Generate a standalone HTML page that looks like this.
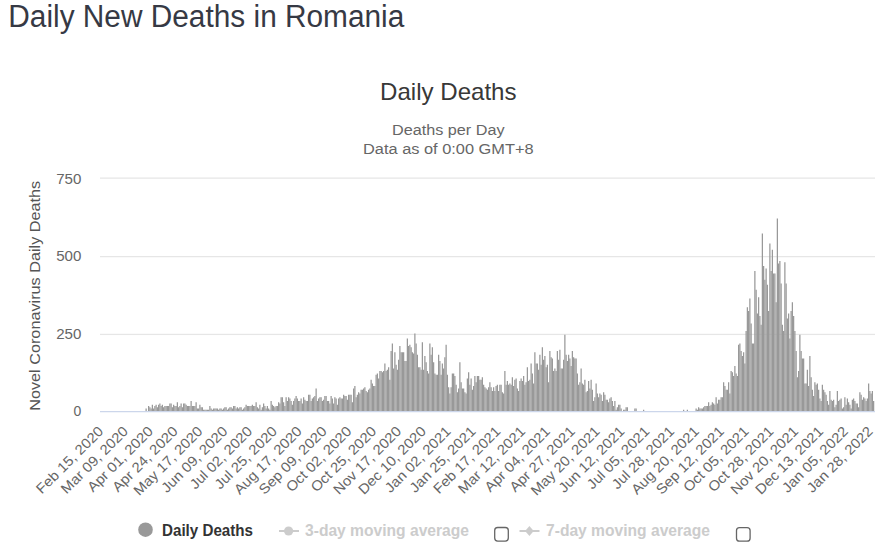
<!DOCTYPE html>
<html><head><meta charset="utf-8"><title>Daily New Deaths in Romania</title>
<style>
html,body{margin:0;padding:0;background:#fff;width:888px;height:552px;overflow:hidden}
svg{position:absolute;left:0;top:0;display:block}
text{font-family:"Liberation Sans",sans-serif}
</style></head><body>
<svg width="888" height="552" viewBox="0 0 888 552">
<text x="8.3" y="26.7" font-size="31" fill="#363944" textLength="396" lengthAdjust="spacingAndGlyphs">Daily New Deaths in Romania</text>
<text x="448.3" y="99.8" font-size="24" fill="#383838" text-anchor="middle" textLength="136.5" lengthAdjust="spacingAndGlyphs">Daily Deaths</text>
<text x="448.3" y="134.9" font-size="14" fill="#666" text-anchor="middle" textLength="112.5" lengthAdjust="spacingAndGlyphs">Deaths per Day</text>
<text x="448.3" y="153.7" font-size="14" fill="#666" text-anchor="middle" textLength="170.5" lengthAdjust="spacingAndGlyphs">Data as of 0:00 GMT+8</text>
<g fill="#e6e6e6">
<rect x="100" y="177.5" width="775" height="1.25"/>
<rect x="100" y="256" width="775" height="1.25"/>
<rect x="100" y="333.8" width="775" height="1.25"/>
</g>
<g font-size="14" fill="#666" text-anchor="end">
<text x="81.4" y="183.8" textLength="25.2" lengthAdjust="spacingAndGlyphs">750</text>
<text x="81.4" y="260.8" textLength="25.2" lengthAdjust="spacingAndGlyphs">500</text>
<text x="81.4" y="339.1" textLength="25.2" lengthAdjust="spacingAndGlyphs">250</text>
<text x="81.4" y="415.6">0</text>
</g>
<text transform="translate(40.4 295.8) rotate(-90)" font-size="15.5" fill="#555" text-anchor="middle" textLength="230" lengthAdjust="spacingAndGlyphs">Novel Coronavirus Daily Deaths</text>
<g fill="#999"><rect x="145.5" y="408.5" width="1.25" height="2.5"/><rect x="148" y="406" width="1.25" height="5"/><rect x="149.25" y="407.25" width="1.25" height="3.75"/><rect x="150.5" y="408.5" width="1.25" height="2.5"/><rect x="151.75" y="404.75" width="1.25" height="6.25"/><rect x="153" y="408.5" width="1.25" height="2.5"/><rect x="154.25" y="406" width="1.25" height="5"/><rect x="155.5" y="404.75" width="1.25" height="6.25"/><rect x="156.75" y="407.25" width="1.25" height="3.75"/><rect x="158" y="404.75" width="1.25" height="6.25"/><rect x="159.25" y="403.5" width="1.25" height="7.5"/><rect x="160.5" y="406" width="1.25" height="5"/><rect x="161.75" y="404.75" width="1.25" height="6.25"/><rect x="163" y="407.25" width="1.25" height="3.75"/><rect x="164.25" y="406" width="1.25" height="5"/><rect x="165.5" y="406" width="1.25" height="5"/><rect x="166.75" y="406" width="1.25" height="5"/><rect x="168" y="406" width="1.25" height="5"/><rect x="169.25" y="403.5" width="1.25" height="7.5"/><rect x="170.5" y="403.5" width="1.25" height="7.5"/><rect x="171.75" y="407.25" width="1.25" height="3.75"/><rect x="173" y="404.75" width="1.25" height="6.25"/><rect x="174.25" y="406" width="1.25" height="5"/><rect x="175.5" y="406" width="1.25" height="5"/><rect x="176.75" y="402.25" width="1.25" height="8.75"/><rect x="178" y="407.25" width="1.25" height="3.75"/><rect x="179.25" y="406" width="1.25" height="5"/><rect x="180.5" y="403.5" width="1.25" height="7.5"/><rect x="181.75" y="407.25" width="1.25" height="3.75"/><rect x="183" y="403.5" width="1.25" height="7.5"/><rect x="184.25" y="403.5" width="1.25" height="7.5"/><rect x="185.5" y="404.75" width="1.25" height="6.25"/><rect x="186.75" y="406" width="1.25" height="5"/><rect x="188" y="406" width="1.25" height="5"/><rect x="189.25" y="406" width="1.25" height="5"/><rect x="190.5" y="401" width="1.25" height="10"/><rect x="191.75" y="406" width="1.25" height="5"/><rect x="193" y="406" width="1.25" height="5"/><rect x="194.25" y="406" width="1.25" height="5"/><rect x="195.5" y="402.25" width="1.25" height="8.75"/><rect x="196.75" y="408.5" width="1.25" height="2.5"/><rect x="198" y="408.5" width="1.25" height="2.5"/><rect x="199.25" y="404.75" width="1.25" height="6.25"/><rect x="200.5" y="407.25" width="1.25" height="3.75"/><rect x="201.75" y="407.25" width="1.25" height="3.75"/><rect x="203" y="409.75" width="1.25" height="1.25"/><rect x="204.25" y="409.75" width="1.25" height="1.25"/><rect x="205.5" y="409.75" width="1.25" height="1.25"/><rect x="206.75" y="409.75" width="1.25" height="1.25"/><rect x="208" y="409.75" width="1.25" height="1.25"/><rect x="209.25" y="406" width="1.25" height="5"/><rect x="210.5" y="408.5" width="1.25" height="2.5"/><rect x="211.75" y="409.75" width="1.25" height="1.25"/><rect x="213" y="408.5" width="1.25" height="2.5"/><rect x="214.25" y="408.5" width="1.25" height="2.5"/><rect x="215.5" y="408.5" width="1.25" height="2.5"/><rect x="216.75" y="408.5" width="1.25" height="2.5"/><rect x="218" y="409.75" width="1.25" height="1.25"/><rect x="219.25" y="408.5" width="1.25" height="2.5"/><rect x="220.5" y="408.5" width="1.25" height="2.5"/><rect x="221.75" y="409.75" width="1.25" height="1.25"/><rect x="223" y="408.5" width="1.25" height="2.5"/><rect x="224.25" y="407.25" width="1.25" height="3.75"/><rect x="225.5" y="407.25" width="1.25" height="3.75"/><rect x="226.75" y="409.75" width="1.25" height="1.25"/><rect x="228" y="408.5" width="1.25" height="2.5"/><rect x="229.25" y="407.25" width="1.25" height="3.75"/><rect x="230.5" y="407.25" width="1.25" height="3.75"/><rect x="231.75" y="408.5" width="1.25" height="2.5"/><rect x="233" y="406" width="1.25" height="5"/><rect x="234.25" y="406" width="1.25" height="5"/><rect x="235.5" y="408.5" width="1.25" height="2.5"/><rect x="236.75" y="407.25" width="1.25" height="3.75"/><rect x="238" y="408.5" width="1.25" height="2.5"/><rect x="239.25" y="407.25" width="1.25" height="3.75"/><rect x="240.5" y="407.25" width="1.25" height="3.75"/><rect x="241.75" y="409.75" width="1.25" height="1.25"/><rect x="243" y="408.5" width="1.25" height="2.5"/><rect x="244.25" y="407.25" width="1.25" height="3.75"/><rect x="245.5" y="404.75" width="1.25" height="6.25"/><rect x="246.75" y="406" width="1.25" height="5"/><rect x="248" y="406" width="1.25" height="5"/><rect x="249.25" y="406" width="1.25" height="5"/><rect x="250.5" y="406" width="1.25" height="5"/><rect x="251.75" y="404.75" width="1.25" height="6.25"/><rect x="253" y="406" width="1.25" height="5"/><rect x="254.25" y="406" width="1.25" height="5"/><rect x="255.5" y="402.25" width="1.25" height="8.75"/><rect x="256.75" y="407.25" width="1.25" height="3.75"/><rect x="258" y="408.5" width="1.25" height="2.5"/><rect x="259.25" y="404.75" width="1.25" height="6.25"/><rect x="260.5" y="409.75" width="1.25" height="1.25"/><rect x="261.75" y="407.25" width="1.25" height="3.75"/><rect x="263" y="403.5" width="1.25" height="7.5"/><rect x="264.25" y="406" width="1.25" height="5"/><rect x="265.5" y="408.5" width="1.25" height="2.5"/><rect x="266.75" y="406" width="1.25" height="5"/><rect x="268" y="408.5" width="1.25" height="2.5"/><rect x="269.25" y="409.75" width="1.25" height="1.25"/><rect x="270.5" y="401" width="1.25" height="10"/><rect x="271.75" y="404.75" width="1.25" height="6.25"/><rect x="273" y="406" width="1.25" height="5"/><rect x="274.25" y="407.25" width="1.25" height="3.75"/><rect x="275.5" y="406" width="1.25" height="5"/><rect x="276.75" y="406" width="1.25" height="5"/><rect x="278" y="402.25" width="1.25" height="8.75"/><rect x="279.25" y="403.5" width="1.25" height="7.5"/><rect x="280.5" y="397.25" width="1.25" height="13.75"/><rect x="281.75" y="397.25" width="1.25" height="13.75"/><rect x="283" y="402.25" width="1.25" height="8.75"/><rect x="284.25" y="406" width="1.25" height="5"/><rect x="285.5" y="397.25" width="1.25" height="13.75"/><rect x="286.75" y="401" width="1.25" height="10"/><rect x="288" y="397.25" width="1.25" height="13.75"/><rect x="289.25" y="398.5" width="1.25" height="12.5"/><rect x="290.5" y="401" width="1.25" height="10"/><rect x="291.75" y="404.75" width="1.25" height="6.25"/><rect x="293" y="401" width="1.25" height="10"/><rect x="294.25" y="398.5" width="1.25" height="12.5"/><rect x="295.5" y="396" width="1.25" height="15"/><rect x="296.75" y="398.5" width="1.25" height="12.5"/><rect x="298" y="401" width="1.25" height="10"/><rect x="299.25" y="401" width="1.25" height="10"/><rect x="300.5" y="398.5" width="1.25" height="12.5"/><rect x="301.75" y="403.5" width="1.25" height="7.5"/><rect x="303" y="397.25" width="1.25" height="13.75"/><rect x="304.25" y="399.75" width="1.25" height="11.25"/><rect x="305.5" y="401" width="1.25" height="10"/><rect x="306.75" y="401" width="1.25" height="10"/><rect x="308" y="394.75" width="1.25" height="16.25"/><rect x="309.25" y="394.75" width="1.25" height="16.25"/><rect x="310.5" y="401" width="1.25" height="10"/><rect x="311.75" y="398.5" width="1.25" height="12.5"/><rect x="313" y="397.25" width="1.25" height="13.75"/><rect x="314.25" y="396" width="1.25" height="15"/><rect x="315.5" y="388.5" width="1.25" height="22.5"/><rect x="316.75" y="401" width="1.25" height="10"/><rect x="318" y="398.5" width="1.25" height="12.5"/><rect x="319.25" y="397.25" width="1.25" height="13.75"/><rect x="320.5" y="397.25" width="1.25" height="13.75"/><rect x="321.75" y="401" width="1.25" height="10"/><rect x="323" y="399.75" width="1.25" height="11.25"/><rect x="324.25" y="396" width="1.25" height="15"/><rect x="325.5" y="396" width="1.25" height="15"/><rect x="326.75" y="401" width="1.25" height="10"/><rect x="328" y="401" width="1.25" height="10"/><rect x="329.25" y="403.5" width="1.25" height="7.5"/><rect x="330.5" y="396" width="1.25" height="15"/><rect x="331.75" y="398.5" width="1.25" height="12.5"/><rect x="333" y="403.5" width="1.25" height="7.5"/><rect x="334.25" y="397.25" width="1.25" height="13.75"/><rect x="335.5" y="398.5" width="1.25" height="12.5"/><rect x="336.75" y="404.75" width="1.25" height="6.25"/><rect x="338" y="398.5" width="1.25" height="12.5"/><rect x="339.25" y="397.25" width="1.25" height="13.75"/><rect x="340.5" y="398.5" width="1.25" height="12.5"/><rect x="341.75" y="398.5" width="1.25" height="12.5"/><rect x="343" y="394.75" width="1.25" height="16.25"/><rect x="344.25" y="396" width="1.25" height="15"/><rect x="345.5" y="396" width="1.25" height="15"/><rect x="346.75" y="399.75" width="1.25" height="11.25"/><rect x="348" y="394.75" width="1.25" height="16.25"/><rect x="349.25" y="394.75" width="1.25" height="16.25"/><rect x="350.5" y="394.75" width="1.25" height="16.25"/><rect x="351.75" y="402.25" width="1.25" height="8.75"/><rect x="353" y="388.5" width="1.25" height="22.5"/><rect x="354.25" y="386" width="1.25" height="25"/><rect x="355.5" y="397.25" width="1.25" height="13.75"/><rect x="356.75" y="394.75" width="1.25" height="16.25"/><rect x="358" y="392.25" width="1.25" height="18.75"/><rect x="359.25" y="393.5" width="1.25" height="17.5"/><rect x="360.5" y="389.75" width="1.25" height="21.25"/><rect x="361.75" y="389.75" width="1.25" height="21.25"/><rect x="363" y="388.5" width="1.25" height="22.5"/><rect x="364.25" y="387.25" width="1.25" height="23.75"/><rect x="365.5" y="391" width="1.25" height="20"/><rect x="366.75" y="392.25" width="1.25" height="18.75"/><rect x="368" y="389.75" width="1.25" height="21.25"/><rect x="369.25" y="388.5" width="1.25" height="22.5"/><rect x="370.5" y="379.75" width="1.25" height="31.25"/><rect x="371.75" y="383.5" width="1.25" height="27.5"/><rect x="373" y="386" width="1.25" height="25"/><rect x="374.25" y="386" width="1.25" height="25"/><rect x="375.5" y="374.75" width="1.25" height="36.25"/><rect x="376.75" y="373.5" width="1.25" height="37.5"/><rect x="378" y="378.5" width="1.25" height="32.5"/><rect x="379.25" y="371" width="1.25" height="40"/><rect x="380.5" y="371" width="1.25" height="40"/><rect x="381.75" y="372.25" width="1.25" height="38.75"/><rect x="383" y="371" width="1.25" height="40"/><rect x="384.25" y="363.5" width="1.25" height="47.5"/><rect x="385.5" y="371" width="1.25" height="40"/><rect x="386.75" y="369.75" width="1.25" height="41.25"/><rect x="388" y="367.25" width="1.25" height="43.75"/><rect x="389.25" y="379.75" width="1.25" height="31.25"/><rect x="390.5" y="351" width="1.25" height="60"/><rect x="391.75" y="343.5" width="1.25" height="67.5"/><rect x="393" y="368.5" width="1.25" height="42.5"/><rect x="394.25" y="352.25" width="1.25" height="58.75"/><rect x="395.5" y="364.75" width="1.25" height="46.25"/><rect x="396.75" y="369.75" width="1.25" height="41.25"/><rect x="398" y="359.75" width="1.25" height="51.25"/><rect x="399.25" y="346" width="1.25" height="65"/><rect x="400.5" y="352.25" width="1.25" height="58.75"/><rect x="401.75" y="352.25" width="1.25" height="58.75"/><rect x="403" y="352.25" width="1.25" height="58.75"/><rect x="404.25" y="361" width="1.25" height="50"/><rect x="405.5" y="361" width="1.25" height="50"/><rect x="406.75" y="338.5" width="1.25" height="72.5"/><rect x="408" y="346" width="1.25" height="65"/><rect x="409.25" y="344.75" width="1.25" height="66.25"/><rect x="410.5" y="347.25" width="1.25" height="63.75"/><rect x="411.75" y="352.25" width="1.25" height="58.75"/><rect x="413" y="353.5" width="1.25" height="57.5"/><rect x="414.25" y="333.5" width="1.25" height="77.5"/><rect x="415.5" y="343.5" width="1.25" height="67.5"/><rect x="416.75" y="354.75" width="1.25" height="56.25"/><rect x="418" y="367.25" width="1.25" height="43.75"/><rect x="419.25" y="367.25" width="1.25" height="43.75"/><rect x="420.5" y="369.75" width="1.25" height="41.25"/><rect x="421.75" y="342.25" width="1.25" height="68.75"/><rect x="423" y="369.75" width="1.25" height="41.25"/><rect x="424.25" y="356" width="1.25" height="55"/><rect x="425.5" y="362.25" width="1.25" height="48.75"/><rect x="426.75" y="371" width="1.25" height="40"/><rect x="428" y="373.5" width="1.25" height="37.5"/><rect x="429.25" y="343.5" width="1.25" height="67.5"/><rect x="430.5" y="354.75" width="1.25" height="56.25"/><rect x="431.75" y="347.25" width="1.25" height="63.75"/><rect x="433" y="362.25" width="1.25" height="48.75"/><rect x="434.25" y="373.5" width="1.25" height="37.5"/><rect x="435.5" y="374.75" width="1.25" height="36.25"/><rect x="436.75" y="374.75" width="1.25" height="36.25"/><rect x="438" y="354.75" width="1.25" height="56.25"/><rect x="439.25" y="361" width="1.25" height="50"/><rect x="440.5" y="374.75" width="1.25" height="36.25"/><rect x="441.75" y="363.5" width="1.25" height="47.5"/><rect x="443" y="368.5" width="1.25" height="42.5"/><rect x="444.25" y="357.25" width="1.25" height="53.75"/><rect x="445.5" y="344.75" width="1.25" height="66.25"/><rect x="446.75" y="374.75" width="1.25" height="36.25"/><rect x="448" y="387.25" width="1.25" height="23.75"/><rect x="449.25" y="393.5" width="1.25" height="17.5"/><rect x="450.5" y="387.25" width="1.25" height="23.75"/><rect x="451.75" y="373.5" width="1.25" height="37.5"/><rect x="453" y="373.5" width="1.25" height="37.5"/><rect x="454.25" y="376" width="1.25" height="35"/><rect x="455.5" y="384.75" width="1.25" height="26.25"/><rect x="456.75" y="392.25" width="1.25" height="18.75"/><rect x="458" y="388.5" width="1.25" height="22.5"/><rect x="459.25" y="362.25" width="1.25" height="48.75"/><rect x="460.5" y="382.25" width="1.25" height="28.75"/><rect x="461.75" y="388.5" width="1.25" height="22.5"/><rect x="463" y="388.5" width="1.25" height="22.5"/><rect x="464.25" y="392.25" width="1.25" height="18.75"/><rect x="465.5" y="393.5" width="1.25" height="17.5"/><rect x="466.75" y="378.5" width="1.25" height="32.5"/><rect x="468" y="372.25" width="1.25" height="38.75"/><rect x="469.25" y="384.75" width="1.25" height="26.25"/><rect x="470.5" y="378.5" width="1.25" height="32.5"/><rect x="471.75" y="389.75" width="1.25" height="21.25"/><rect x="473" y="386" width="1.25" height="25"/><rect x="474.25" y="376" width="1.25" height="35"/><rect x="475.5" y="382.25" width="1.25" height="28.75"/><rect x="476.75" y="376" width="1.25" height="35"/><rect x="478" y="376" width="1.25" height="35"/><rect x="479.25" y="379.75" width="1.25" height="31.25"/><rect x="480.5" y="379.75" width="1.25" height="31.25"/><rect x="481.75" y="377.25" width="1.25" height="33.75"/><rect x="483" y="384.75" width="1.25" height="26.25"/><rect x="484.25" y="387.25" width="1.25" height="23.75"/><rect x="485.5" y="388.5" width="1.25" height="22.5"/><rect x="486.75" y="389.75" width="1.25" height="21.25"/><rect x="488" y="387.25" width="1.25" height="23.75"/><rect x="489.25" y="382.25" width="1.25" height="28.75"/><rect x="490.5" y="387.25" width="1.25" height="23.75"/><rect x="491.75" y="391" width="1.25" height="20"/><rect x="493" y="387.25" width="1.25" height="23.75"/><rect x="494.25" y="391" width="1.25" height="20"/><rect x="495.5" y="386" width="1.25" height="25"/><rect x="496.75" y="384.75" width="1.25" height="26.25"/><rect x="498" y="391" width="1.25" height="20"/><rect x="499.25" y="384.75" width="1.25" height="26.25"/><rect x="500.5" y="384.75" width="1.25" height="26.25"/><rect x="501.75" y="392.25" width="1.25" height="18.75"/><rect x="503" y="393.5" width="1.25" height="17.5"/><rect x="504.25" y="371" width="1.25" height="40"/><rect x="505.5" y="384.75" width="1.25" height="26.25"/><rect x="506.75" y="381" width="1.25" height="30"/><rect x="508" y="384.75" width="1.25" height="26.25"/><rect x="509.25" y="383.5" width="1.25" height="27.5"/><rect x="510.5" y="384.75" width="1.25" height="26.25"/><rect x="511.75" y="377.25" width="1.25" height="33.75"/><rect x="513" y="386" width="1.25" height="25"/><rect x="514.25" y="379.75" width="1.25" height="31.25"/><rect x="515.5" y="378.5" width="1.25" height="32.5"/><rect x="516.75" y="388.5" width="1.25" height="22.5"/><rect x="518" y="391" width="1.25" height="20"/><rect x="519.25" y="381" width="1.25" height="30"/><rect x="520.5" y="378.5" width="1.25" height="32.5"/><rect x="521.75" y="381" width="1.25" height="30"/><rect x="523" y="376" width="1.25" height="35"/><rect x="524.25" y="384.75" width="1.25" height="26.25"/><rect x="525.5" y="382.25" width="1.25" height="28.75"/><rect x="526.75" y="367.25" width="1.25" height="43.75"/><rect x="528" y="381" width="1.25" height="30"/><rect x="529.25" y="379.75" width="1.25" height="31.25"/><rect x="530.5" y="363.5" width="1.25" height="47.5"/><rect x="531.75" y="373.5" width="1.25" height="37.5"/><rect x="533" y="383.5" width="1.25" height="27.5"/><rect x="534.25" y="352.25" width="1.25" height="58.75"/><rect x="535.5" y="363.5" width="1.25" height="47.5"/><rect x="536.75" y="363.5" width="1.25" height="47.5"/><rect x="538" y="369.75" width="1.25" height="41.25"/><rect x="539.25" y="354.75" width="1.25" height="56.25"/><rect x="540.5" y="364.75" width="1.25" height="46.25"/><rect x="541.75" y="347.25" width="1.25" height="63.75"/><rect x="543" y="359.75" width="1.25" height="51.25"/><rect x="544.25" y="356" width="1.25" height="55"/><rect x="545.5" y="367.25" width="1.25" height="43.75"/><rect x="546.75" y="364.75" width="1.25" height="46.25"/><rect x="548" y="382.25" width="1.25" height="28.75"/><rect x="549.25" y="351" width="1.25" height="60"/><rect x="550.5" y="357.25" width="1.25" height="53.75"/><rect x="551.75" y="358.5" width="1.25" height="52.5"/><rect x="553" y="371" width="1.25" height="40"/><rect x="554.25" y="368.5" width="1.25" height="42.5"/><rect x="555.5" y="371" width="1.25" height="40"/><rect x="556.75" y="351" width="1.25" height="60"/><rect x="558" y="359.75" width="1.25" height="51.25"/><rect x="559.25" y="349.75" width="1.25" height="61.25"/><rect x="560.5" y="368.5" width="1.25" height="42.5"/><rect x="561.75" y="368.5" width="1.25" height="42.5"/><rect x="563" y="359.75" width="1.25" height="51.25"/><rect x="564.25" y="334.75" width="1.25" height="76.25"/><rect x="565.5" y="354.75" width="1.25" height="56.25"/><rect x="566.75" y="361" width="1.25" height="50"/><rect x="568" y="354.75" width="1.25" height="56.25"/><rect x="569.25" y="358.5" width="1.25" height="52.5"/><rect x="570.5" y="366" width="1.25" height="45"/><rect x="571.75" y="351" width="1.25" height="60"/><rect x="573" y="357.25" width="1.25" height="53.75"/><rect x="574.25" y="358.5" width="1.25" height="52.5"/><rect x="575.5" y="358.5" width="1.25" height="52.5"/><rect x="576.75" y="373.5" width="1.25" height="37.5"/><rect x="578" y="384.75" width="1.25" height="26.25"/><rect x="579.25" y="382.25" width="1.25" height="28.75"/><rect x="580.5" y="368.5" width="1.25" height="42.5"/><rect x="581.75" y="383.5" width="1.25" height="27.5"/><rect x="583" y="384.75" width="1.25" height="26.25"/><rect x="584.25" y="379.75" width="1.25" height="31.25"/><rect x="585.5" y="392.25" width="1.25" height="18.75"/><rect x="586.75" y="391" width="1.25" height="20"/><rect x="588" y="381" width="1.25" height="30"/><rect x="589.25" y="388.5" width="1.25" height="22.5"/><rect x="590.5" y="379.75" width="1.25" height="31.25"/><rect x="591.75" y="389.75" width="1.25" height="21.25"/><rect x="593" y="401" width="1.25" height="10"/><rect x="594.25" y="397.25" width="1.25" height="13.75"/><rect x="595.5" y="383.5" width="1.25" height="27.5"/><rect x="596.75" y="393.5" width="1.25" height="17.5"/><rect x="598" y="397.25" width="1.25" height="13.75"/><rect x="599.25" y="393.5" width="1.25" height="17.5"/><rect x="600.5" y="394.75" width="1.25" height="16.25"/><rect x="601.75" y="401" width="1.25" height="10"/><rect x="603" y="392.25" width="1.25" height="18.75"/><rect x="604.25" y="394.75" width="1.25" height="16.25"/><rect x="605.5" y="399.75" width="1.25" height="11.25"/><rect x="606.75" y="399.75" width="1.25" height="11.25"/><rect x="608" y="402.25" width="1.25" height="8.75"/><rect x="609.25" y="398.5" width="1.25" height="12.5"/><rect x="610.5" y="397.25" width="1.25" height="13.75"/><rect x="611.75" y="401" width="1.25" height="10"/><rect x="613" y="406" width="1.25" height="5"/><rect x="614.25" y="401" width="1.25" height="10"/><rect x="615.5" y="409.75" width="1.25" height="1.25"/><rect x="616.75" y="407.25" width="1.25" height="3.75"/><rect x="618" y="404.75" width="1.25" height="6.25"/><rect x="619.25" y="404.75" width="1.25" height="6.25"/><rect x="620.5" y="408.5" width="1.25" height="2.5"/><rect x="623" y="409.75" width="1.25" height="1.25"/><rect x="624.25" y="409.75" width="1.25" height="1.25"/><rect x="625.5" y="407.25" width="1.25" height="3.75"/><rect x="626.75" y="407.25" width="1.25" height="3.75"/><rect x="634.25" y="408.5" width="1.25" height="2.5"/><rect x="635.5" y="408.5" width="1.25" height="2.5"/><rect x="643" y="409.75" width="1.25" height="1.25"/><rect x="683" y="409.75" width="1.25" height="1.25"/><rect x="686.75" y="409.75" width="1.25" height="1.25"/><rect x="695.5" y="408.5" width="1.25" height="2.5"/><rect x="696.75" y="409.75" width="1.25" height="1.25"/><rect x="698" y="407.25" width="1.25" height="3.75"/><rect x="699.25" y="408.5" width="1.25" height="2.5"/><rect x="700.5" y="408.5" width="1.25" height="2.5"/><rect x="701.75" y="408.5" width="1.25" height="2.5"/><rect x="703" y="407.25" width="1.25" height="3.75"/><rect x="704.25" y="406" width="1.25" height="5"/><rect x="705.5" y="406" width="1.25" height="5"/><rect x="706.75" y="406" width="1.25" height="5"/><rect x="708" y="402.25" width="1.25" height="8.75"/><rect x="709.25" y="406" width="1.25" height="5"/><rect x="710.5" y="404.75" width="1.25" height="6.25"/><rect x="711.75" y="402.25" width="1.25" height="8.75"/><rect x="713" y="403.5" width="1.25" height="7.5"/><rect x="714.25" y="404.75" width="1.25" height="6.25"/><rect x="715.5" y="397.25" width="1.25" height="13.75"/><rect x="716.75" y="403.5" width="1.25" height="7.5"/><rect x="718" y="399.75" width="1.25" height="11.25"/><rect x="719.25" y="399.75" width="1.25" height="11.25"/><rect x="720.5" y="397.25" width="1.25" height="13.75"/><rect x="721.75" y="397.25" width="1.25" height="13.75"/><rect x="723" y="382.25" width="1.25" height="28.75"/><rect x="724.25" y="386" width="1.25" height="25"/><rect x="725.5" y="389.75" width="1.25" height="21.25"/><rect x="726.75" y="389.75" width="1.25" height="21.25"/><rect x="728" y="382.25" width="1.25" height="28.75"/><rect x="729.25" y="393.5" width="1.25" height="17.5"/><rect x="730.5" y="371" width="1.25" height="40"/><rect x="731.75" y="372.25" width="1.25" height="38.75"/><rect x="733" y="376" width="1.25" height="35"/><rect x="734.25" y="366" width="1.25" height="45"/><rect x="735.5" y="373.5" width="1.25" height="37.5"/><rect x="736.75" y="376" width="1.25" height="35"/><rect x="738" y="344.75" width="1.25" height="66.25"/><rect x="739.25" y="343.5" width="1.25" height="67.5"/><rect x="740.5" y="351" width="1.25" height="60"/><rect x="741.75" y="356" width="1.25" height="55"/><rect x="743" y="352.25" width="1.25" height="58.75"/><rect x="744.25" y="363.5" width="1.25" height="47.5"/><rect x="745.5" y="331" width="1.25" height="80"/><rect x="746.75" y="307.25" width="1.25" height="103.75"/><rect x="748" y="311" width="1.25" height="100"/><rect x="749.25" y="298.5" width="1.25" height="112.5"/><rect x="750.5" y="323.5" width="1.25" height="87.5"/><rect x="751.75" y="343.5" width="1.25" height="67.5"/><rect x="753" y="343.5" width="1.25" height="67.5"/><rect x="754.25" y="271" width="1.25" height="140"/><rect x="755.5" y="289.75" width="1.25" height="121.25"/><rect x="756.75" y="313.5" width="1.25" height="97.5"/><rect x="758" y="297.25" width="1.25" height="113.75"/><rect x="759.25" y="316" width="1.25" height="95"/><rect x="760.5" y="324.75" width="1.25" height="86.25"/><rect x="761.75" y="233.5" width="1.25" height="177.5"/><rect x="763" y="266" width="1.25" height="145"/><rect x="764.25" y="279.75" width="1.25" height="131.25"/><rect x="765.5" y="268.5" width="1.25" height="142.5"/><rect x="766.75" y="284.75" width="1.25" height="126.25"/><rect x="768" y="311" width="1.25" height="100"/><rect x="769.25" y="243.5" width="1.25" height="167.5"/><rect x="770.5" y="271" width="1.25" height="140"/><rect x="771.75" y="249.75" width="1.25" height="161.25"/><rect x="773" y="273.5" width="1.25" height="137.5"/><rect x="774.25" y="273.5" width="1.25" height="137.5"/><rect x="775.5" y="302.25" width="1.25" height="108.75"/><rect x="776.75" y="218.5" width="1.25" height="192.5"/><rect x="778" y="263.5" width="1.25" height="147.5"/><rect x="779.25" y="261" width="1.25" height="150"/><rect x="780.5" y="283.5" width="1.25" height="127.5"/><rect x="781.75" y="324.75" width="1.25" height="86.25"/><rect x="783" y="331" width="1.25" height="80"/><rect x="784.25" y="262.25" width="1.25" height="148.75"/><rect x="785.5" y="283.5" width="1.25" height="127.5"/><rect x="786.75" y="318.5" width="1.25" height="92.5"/><rect x="788" y="313.5" width="1.25" height="97.5"/><rect x="789.25" y="338.5" width="1.25" height="72.5"/><rect x="790.5" y="311" width="1.25" height="100"/><rect x="791.75" y="302.25" width="1.25" height="108.75"/><rect x="793" y="316" width="1.25" height="95"/><rect x="794.25" y="331" width="1.25" height="80"/><rect x="795.5" y="351" width="1.25" height="60"/><rect x="796.75" y="377.25" width="1.25" height="33.75"/><rect x="798" y="371" width="1.25" height="40"/><rect x="799.25" y="334.75" width="1.25" height="76.25"/><rect x="800.5" y="351" width="1.25" height="60"/><rect x="801.75" y="358.5" width="1.25" height="52.5"/><rect x="803" y="358.5" width="1.25" height="52.5"/><rect x="804.25" y="383.5" width="1.25" height="27.5"/><rect x="805.5" y="383.5" width="1.25" height="27.5"/><rect x="806.75" y="369.75" width="1.25" height="41.25"/><rect x="808" y="386" width="1.25" height="25"/><rect x="809.25" y="356" width="1.25" height="55"/><rect x="810.5" y="377.25" width="1.25" height="33.75"/><rect x="811.75" y="389.75" width="1.25" height="21.25"/><rect x="813" y="396" width="1.25" height="15"/><rect x="814.25" y="382.25" width="1.25" height="28.75"/><rect x="815.5" y="384.75" width="1.25" height="26.25"/><rect x="816.75" y="383.5" width="1.25" height="27.5"/><rect x="818" y="389.75" width="1.25" height="21.25"/><rect x="819.25" y="398.5" width="1.25" height="12.5"/><rect x="820.5" y="401" width="1.25" height="10"/><rect x="821.75" y="384.75" width="1.25" height="26.25"/><rect x="823" y="389.75" width="1.25" height="21.25"/><rect x="824.25" y="392.25" width="1.25" height="18.75"/><rect x="825.5" y="394.75" width="1.25" height="16.25"/><rect x="826.75" y="401" width="1.25" height="10"/><rect x="828" y="404.75" width="1.25" height="6.25"/><rect x="829.25" y="391" width="1.25" height="20"/><rect x="830.5" y="399.75" width="1.25" height="11.25"/><rect x="831.75" y="401" width="1.25" height="10"/><rect x="833" y="399.75" width="1.25" height="11.25"/><rect x="834.25" y="407.25" width="1.25" height="3.75"/><rect x="835.5" y="404.75" width="1.25" height="6.25"/><rect x="836.75" y="391" width="1.25" height="20"/><rect x="838" y="401" width="1.25" height="10"/><rect x="839.25" y="399.75" width="1.25" height="11.25"/><rect x="840.5" y="398.5" width="1.25" height="12.5"/><rect x="841.75" y="408.5" width="1.25" height="2.5"/><rect x="843" y="407.25" width="1.25" height="3.75"/><rect x="844.25" y="397.25" width="1.25" height="13.75"/><rect x="845.5" y="404.75" width="1.25" height="6.25"/><rect x="846.75" y="398.5" width="1.25" height="12.5"/><rect x="848" y="402.25" width="1.25" height="8.75"/><rect x="849.25" y="404.75" width="1.25" height="6.25"/><rect x="850.5" y="408.5" width="1.25" height="2.5"/><rect x="851.75" y="399.75" width="1.25" height="11.25"/><rect x="853" y="398.5" width="1.25" height="12.5"/><rect x="854.25" y="401" width="1.25" height="10"/><rect x="855.5" y="403.5" width="1.25" height="7.5"/><rect x="856.75" y="403.5" width="1.25" height="7.5"/><rect x="858" y="407.25" width="1.25" height="3.75"/><rect x="859.25" y="392.25" width="1.25" height="18.75"/><rect x="860.5" y="394.75" width="1.25" height="16.25"/><rect x="861.75" y="399.75" width="1.25" height="11.25"/><rect x="863" y="397.25" width="1.25" height="13.75"/><rect x="864.25" y="398.5" width="1.25" height="12.5"/><rect x="865.5" y="401" width="1.25" height="10"/><rect x="866.75" y="398.5" width="1.25" height="12.5"/><rect x="868" y="383.5" width="1.25" height="27.5"/><rect x="869.25" y="391" width="1.25" height="20"/><rect x="870.5" y="393.5" width="1.25" height="17.5"/><rect x="871.75" y="391" width="1.25" height="20"/><rect x="873" y="401" width="1.25" height="10"/></g>
<rect x="100" y="411" width="775" height="1.25" fill="#ccd6eb"/>
<g font-size="14" fill="#666" text-anchor="end"><text transform="translate(104.14 432.20) rotate(-45)" textLength="88.2" lengthAdjust="spacingAndGlyphs">Feb 15, 2020</text><text transform="translate(128.97 432.20) rotate(-45)" textLength="88.2" lengthAdjust="spacingAndGlyphs">Mar 09, 2020</text><text transform="translate(153.79 432.20) rotate(-45)" textLength="85.8" lengthAdjust="spacingAndGlyphs">Apr 01, 2020</text><text transform="translate(178.62 432.20) rotate(-45)" textLength="85.8" lengthAdjust="spacingAndGlyphs">Apr 24, 2020</text><text transform="translate(203.44 432.20) rotate(-45)" textLength="90.7" lengthAdjust="spacingAndGlyphs">May 17, 2020</text><text transform="translate(228.27 432.20) rotate(-45)" textLength="86.6" lengthAdjust="spacingAndGlyphs">Jun 09, 2020</text><text transform="translate(253.10 432.20) rotate(-45)" textLength="81.6" lengthAdjust="spacingAndGlyphs">Jul 02, 2020</text><text transform="translate(277.92 432.20) rotate(-45)" textLength="81.6" lengthAdjust="spacingAndGlyphs">Jul 25, 2020</text><text transform="translate(302.75 432.20) rotate(-45)" textLength="89.1" lengthAdjust="spacingAndGlyphs">Aug 17, 2020</text><text transform="translate(327.57 432.20) rotate(-45)" textLength="89.1" lengthAdjust="spacingAndGlyphs">Sep 09, 2020</text><text transform="translate(352.40 432.20) rotate(-45)" textLength="85.8" lengthAdjust="spacingAndGlyphs">Oct 02, 2020</text><text transform="translate(377.22 432.20) rotate(-45)" textLength="85.8" lengthAdjust="spacingAndGlyphs">Oct 25, 2020</text><text transform="translate(402.05 432.20) rotate(-45)" textLength="89.1" lengthAdjust="spacingAndGlyphs">Nov 17, 2020</text><text transform="translate(426.88 432.20) rotate(-45)" textLength="89.1" lengthAdjust="spacingAndGlyphs">Dec 10, 2020</text><text transform="translate(451.70 432.20) rotate(-45)" textLength="86.6" lengthAdjust="spacingAndGlyphs">Jan 02, 2021</text><text transform="translate(476.53 432.20) rotate(-45)" textLength="86.6" lengthAdjust="spacingAndGlyphs">Jan 25, 2021</text><text transform="translate(501.35 432.20) rotate(-45)" textLength="88.2" lengthAdjust="spacingAndGlyphs">Feb 17, 2021</text><text transform="translate(526.18 432.20) rotate(-45)" textLength="88.2" lengthAdjust="spacingAndGlyphs">Mar 12, 2021</text><text transform="translate(551.01 432.20) rotate(-45)" textLength="85.8" lengthAdjust="spacingAndGlyphs">Apr 04, 2021</text><text transform="translate(575.83 432.20) rotate(-45)" textLength="85.8" lengthAdjust="spacingAndGlyphs">Apr 27, 2021</text><text transform="translate(600.66 432.20) rotate(-45)" textLength="90.7" lengthAdjust="spacingAndGlyphs">May 20, 2021</text><text transform="translate(625.48 432.20) rotate(-45)" textLength="86.6" lengthAdjust="spacingAndGlyphs">Jun 12, 2021</text><text transform="translate(650.31 432.20) rotate(-45)" textLength="81.6" lengthAdjust="spacingAndGlyphs">Jul 05, 2021</text><text transform="translate(675.14 432.20) rotate(-45)" textLength="81.6" lengthAdjust="spacingAndGlyphs">Jul 28, 2021</text><text transform="translate(699.96 432.20) rotate(-45)" textLength="89.1" lengthAdjust="spacingAndGlyphs">Aug 20, 2021</text><text transform="translate(724.79 432.20) rotate(-45)" textLength="89.1" lengthAdjust="spacingAndGlyphs">Sep 12, 2021</text><text transform="translate(749.61 432.20) rotate(-45)" textLength="85.8" lengthAdjust="spacingAndGlyphs">Oct 05, 2021</text><text transform="translate(774.44 432.20) rotate(-45)" textLength="85.8" lengthAdjust="spacingAndGlyphs">Oct 28, 2021</text><text transform="translate(799.27 432.20) rotate(-45)" textLength="89.1" lengthAdjust="spacingAndGlyphs">Nov 20, 2021</text><text transform="translate(824.09 432.20) rotate(-45)" textLength="89.1" lengthAdjust="spacingAndGlyphs">Dec 13, 2021</text><text transform="translate(848.92 432.20) rotate(-45)" textLength="86.6" lengthAdjust="spacingAndGlyphs">Jan 05, 2022</text><text transform="translate(873.74 432.20) rotate(-45)" textLength="86.6" lengthAdjust="spacingAndGlyphs">Jan 28, 2022</text></g>
<circle cx="145.5" cy="529.7" r="7.3" fill="#999"/>
<text x="162" y="536" font-size="16.3" font-weight="bold" fill="#333" textLength="91" lengthAdjust="spacingAndGlyphs">Daily Deaths</text>
<path d="M279 531H299" stroke="#ccc" stroke-width="2"/>
<circle cx="288.6" cy="531" r="4.6" fill="#ccc"/>
<text x="305" y="536" font-size="16.3" font-weight="bold" fill="#ccc" textLength="164" lengthAdjust="spacingAndGlyphs">3-day moving average</text>
<rect x="494.7" y="527.5" width="13.6" height="13.6" rx="3" fill="#fff" stroke="#666" stroke-width="1.3"/>
<path d="M519.5 531H539.5" stroke="#ccc" stroke-width="2"/>
<path d="M529.4 526L533.7 531L529.4 536L525.1 531Z" fill="#ccc"/>
<text x="546" y="536" font-size="16.3" font-weight="bold" fill="#ccc" textLength="164" lengthAdjust="spacingAndGlyphs">7-day moving average</text>
<rect x="736.5" y="527.6" width="13.6" height="13.6" rx="3" fill="#fff" stroke="#666" stroke-width="1.3"/>
</svg>
</body></html>
